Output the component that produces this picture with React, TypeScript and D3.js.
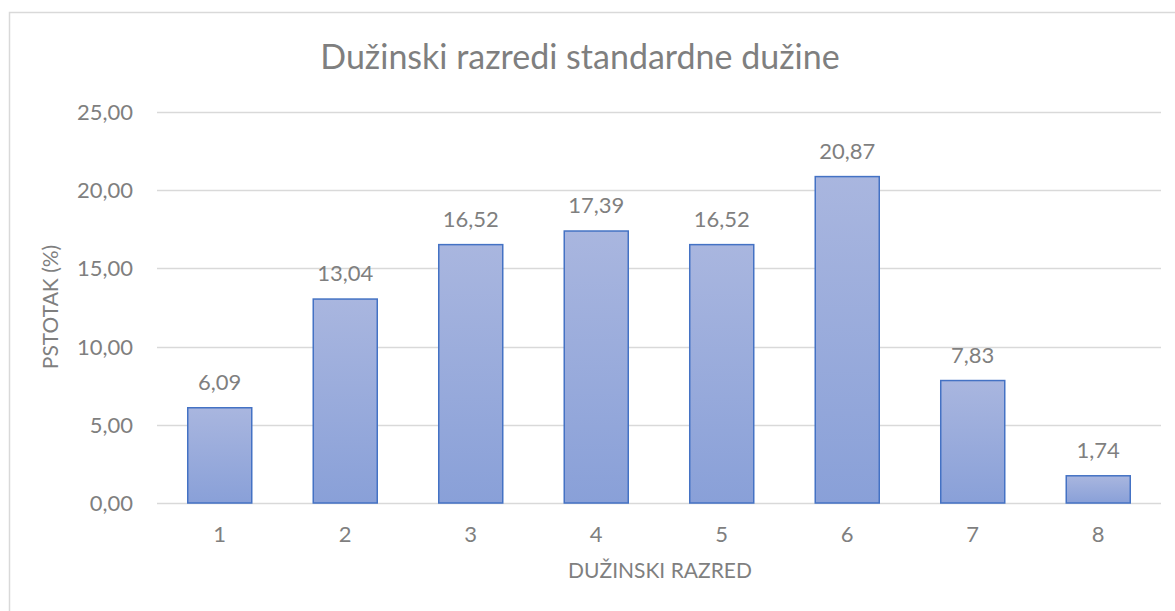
import React, { useRef, useEffect } from 'react';
import * as d3 from 'd3';

const categories = ['1', '2', '3', '4', '5', '6', '7', '8'];
const percentages = [6.09, 13.04, 16.52, 17.39, 16.52, 20.87, 7.83, 1.74];
const yTicks = [0, 5, 10, 15, 20, 25];

const title = 'Dužinski razredi standardne dužine';
const xTitle = 'DUŽINSKI RAZRED';
const yTitle = 'PSTOTAK (%)';

const App = () => {
  const svgRef = useRef<SVGSVGElement>(null);

  useEffect(() => {
    const root = d3.select(svgRef.current);
    root.selectAll('*').remove();

    const width = 1175;
    const height = 611;
    const plot = { left: 157, right: 1161, top: 112, bottom: 503 };
    const font = 'Lato, "Open Sans", sans-serif';
    const grey = '#7f7f7f';
    const fmt = (v: number) => v.toFixed(2).replace('.', ',');

    root.attr('width', width).attr('height', height);

    // Gradient for bars
    const defs = root.append('defs');
    const grad = defs
      .append('linearGradient')
      .attr('id', 'barGrad')
      .attr('x1', 0)
      .attr('y1', 0)
      .attr('x2', 0)
      .attr('y2', 1);
    grad.append('stop').attr('offset', '0%').attr('stop-color', '#a9b6df');
    grad.append('stop').attr('offset', '100%').attr('stop-color', '#89a0d8');

    // Chart border (runs past the right and bottom edges)
    root
      .append('rect')
      .attr('x', 9.5)
      .attr('y', 12.5)
      .attr('width', 1180)
      .attr('height', 620)
      .attr('fill', '#fff')
      .attr('stroke', '#d9d9d9')
      .attr('stroke-width', 1.5);

    const xScale = d3
      .scaleBand()
      .domain(categories)
      .range([plot.left, plot.right])
      .paddingInner(0.49)
      .paddingOuter(0.245);

    const yScale = d3.scaleLinear().domain([0, 25]).range([plot.bottom, plot.top]);

    // Gridlines
    root
      .append('g')
      .selectAll('line')
      .data(yTicks)
      .enter()
      .append('line')
      .attr('x1', plot.left)
      .attr('x2', plot.right)
      .attr('y1', (d) => Math.round(yScale(d)) + 0.5)
      .attr('y2', (d) => Math.round(yScale(d)) + 0.5)
      .attr('stroke', '#d9d9d9')
      .attr('stroke-width', 1.3);

    // Y tick labels
    root
      .append('g')
      .selectAll('text')
      .data(yTicks)
      .enter()
      .append('text')
      .attr('x', 133)
      .attr('y', (d) => yScale(d) + 8)
      .attr('text-anchor', 'end')
      .attr('font-family', font)
      .attr('font-size', 22)
      .attr('fill', grey)
      .text((d) => fmt(d));

    // Bars
    root
      .append('g')
      .selectAll('rect')
      .data(percentages)
      .enter()
      .append('rect')
      .attr('x', (_, i) => xScale(categories[i])!)
      .attr('y', (d) => yScale(d))
      .attr('width', xScale.bandwidth())
      .attr('height', (d) => plot.bottom - yScale(d))
      .attr('fill', 'url(#barGrad)')
      .attr('stroke', '#4472c4')
      .attr('stroke-width', 1.5);

    // Data labels
    root
      .append('g')
      .selectAll('text')
      .data(percentages)
      .enter()
      .append('text')
      .attr('x', (_, i) => xScale(categories[i])! + xScale.bandwidth() / 2)
      .attr('y', (d) => yScale(d) - 18)
      .attr('text-anchor', 'middle')
      .attr('font-family', font)
      .attr('font-size', 22)
      .attr('fill', grey)
      .text((d) => fmt(d));

    // X tick labels
    root
      .append('g')
      .selectAll('text')
      .data(categories)
      .enter()
      .append('text')
      .attr('x', (d) => xScale(d)! + xScale.bandwidth() / 2)
      .attr('y', 542)
      .attr('text-anchor', 'middle')
      .attr('font-family', font)
      .attr('font-size', 22)
      .attr('fill', grey)
      .text((d) => d);

    // Title
    root
      .append('text')
      .attr('x', 580)
      .attr('y', 69)
      .attr('text-anchor', 'middle')
      .attr('font-family', font)
      .attr('font-size', 34)
      .attr('fill', grey)
      .text(title);

    // Axis titles
    root
      .append('text')
      .attr('x', 660)
      .attr('y', 578)
      .attr('text-anchor', 'middle')
      .attr('font-family', font)
      .attr('font-size', 21)
      .attr('fill', grey)
      .text(xTitle);

    root
      .append('text')
      .attr('transform', 'translate(58, 307) rotate(-90)')
      .attr('text-anchor', 'middle')
      .attr('font-family', font)
      .attr('font-size', 21)
      .attr('fill', grey)
      .text(yTitle);
  }, []);

  return (
    <svg
      ref={svgRef}
      style={{ position: 'absolute', left: 0, top: 0, display: 'block' }}
    />
  );
};

export default App;
